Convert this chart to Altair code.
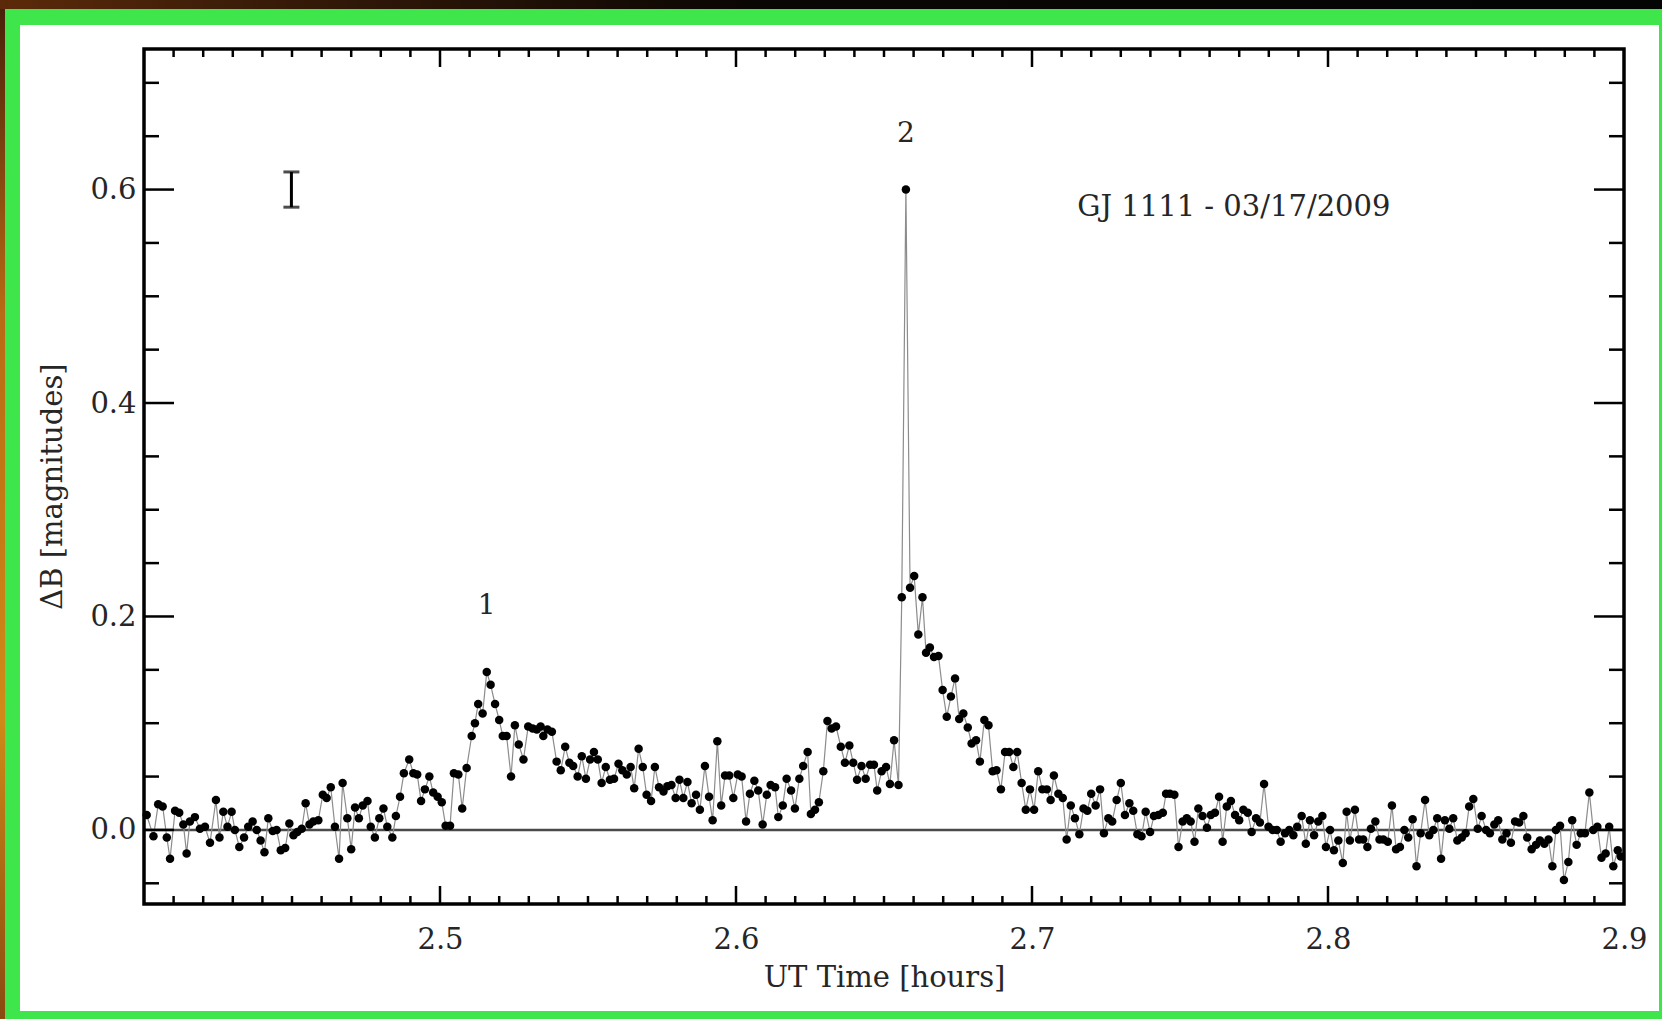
import altair as alt
import pandas as pd

# UT time [hours] and Delta-B [mag] of GJ 1111, night of 03/17/2009
ut_hours = [
    2.4009, 2.4032, 2.4048, 2.4063, 2.4077, 2.4088, 2.4105, 2.4119, 2.4133, 2.4144,
    2.4155, 2.4172, 2.4189, 2.4206, 2.4223, 2.4243, 2.4255, 2.4268, 2.4282, 2.4296,
    2.4307, 2.4322, 2.4338, 2.4352, 2.4367, 2.4381, 2.4394, 2.4407, 2.4420, 2.4435,
    2.4448, 2.4462, 2.4477, 2.4491, 2.4505, 2.4518, 2.4533, 2.4546, 2.4559, 2.4572,
    2.4589, 2.4604, 2.4617, 2.4631, 2.4645, 2.4659, 2.4671, 2.4687, 2.4700, 2.4713,
    2.4726, 2.4739, 2.4755, 2.4766, 2.4780, 2.4795, 2.4809, 2.4822, 2.4839, 2.4851,
    2.4865, 2.4878, 2.4896, 2.4910, 2.4923, 2.4936, 2.4949, 2.4964, 2.4977, 2.4992,
    2.5006, 2.5019, 2.5034, 2.5047, 2.5062, 2.5075, 2.5090, 2.5107, 2.5118, 2.5129,
    2.5144, 2.5158, 2.5171, 2.5186, 2.5200, 2.5212, 2.5225, 2.5240, 2.5253, 2.5266,
    2.5282, 2.5298, 2.5313, 2.5327, 2.5340, 2.5349, 2.5363, 2.5378, 2.5394, 2.5408,
    2.5423, 2.5437, 2.5450, 2.5465, 2.5479, 2.5493, 2.5507, 2.5520, 2.5533, 2.5546,
    2.5560, 2.5574, 2.5588, 2.5603, 2.5616, 2.5631, 2.5644, 2.5656, 2.5671, 2.5685,
    2.5698, 2.5713, 2.5726, 2.5740, 2.5755, 2.5768, 2.5782, 2.5796, 2.5809, 2.5822,
    2.5836, 2.5850, 2.5865, 2.5878, 2.5895, 2.5909, 2.5921, 2.5937, 2.5950, 2.5963,
    2.5977, 2.5991, 2.6006, 2.6019, 2.6034, 2.6047, 2.6062, 2.6075, 2.6090, 2.6104,
    2.6117, 2.6132, 2.6143, 2.6158, 2.6171, 2.6186, 2.6199, 2.6214, 2.6227, 2.6242,
    2.6253, 2.6267, 2.6280, 2.6295, 2.6309, 2.6323, 2.6338, 2.6354, 2.6368, 2.6383,
    2.6396, 2.6409, 2.6424, 2.6438, 2.6453, 2.6466, 2.6477, 2.6492, 2.6507, 2.6520,
    2.6534, 2.6549, 2.6560, 2.6574, 2.6588, 2.6602, 2.6616, 2.6630, 2.6642, 2.6655,
    2.6669, 2.6684, 2.6698, 2.6712, 2.6726, 2.6740, 2.6754, 2.6768, 2.6783, 2.6796,
    2.6811, 2.6824, 2.6839, 2.6853, 2.6867, 2.6880, 2.6895, 2.6909, 2.6923, 2.6937,
    2.6950, 2.6965, 2.6979, 2.6993, 2.7007, 2.7021, 2.7035, 2.7050, 2.7063, 2.7074,
    2.7089, 2.7104, 2.7117, 2.7131, 2.7145, 2.7160, 2.7174, 2.7187, 2.7200, 2.7215,
    2.7230, 2.7243, 2.7258, 2.7271, 2.7286, 2.7300, 2.7314, 2.7329, 2.7342, 2.7356,
    2.7370, 2.7384, 2.7399, 2.7412, 2.7427, 2.7442, 2.7453, 2.7466, 2.7481, 2.7495,
    2.7509, 2.7523, 2.7536, 2.7549, 2.7562, 2.7576, 2.7591, 2.7604, 2.7618, 2.7632,
    2.7644, 2.7658, 2.7672, 2.7686, 2.7700, 2.7714, 2.7729, 2.7742, 2.7757, 2.7770,
    2.7784, 2.7799, 2.7813, 2.7827, 2.7840, 2.7855, 2.7869, 2.7883, 2.7896, 2.7911,
    2.7925, 2.7939, 2.7953, 2.7967, 2.7981, 2.7993, 2.8007, 2.8020, 2.8035, 2.8050,
    2.8063, 2.8074, 2.8091, 2.8105, 2.8119, 2.8133, 2.8145, 2.8160, 2.8174, 2.8187,
    2.8202, 2.8216, 2.8230, 2.8243, 2.8258, 2.8271, 2.8286, 2.8299, 2.8313, 2.8328,
    2.8342, 2.8356, 2.8369, 2.8382, 2.8395, 2.8410, 2.8423, 2.8437, 2.8452, 2.8465,
    2.8477, 2.8491, 2.8506, 2.8519, 2.8534, 2.8547, 2.8562, 2.8575, 2.8589, 2.8603,
    2.8618, 2.8632, 2.8646, 2.8660, 2.8673, 2.8688, 2.8703, 2.8716, 2.8731, 2.8745,
    2.8758, 2.8770, 2.8784, 2.8797, 2.8812, 2.8825, 2.8840, 2.8854, 2.8868, 2.8883,
    2.8896, 2.8910, 2.8924, 2.8938, 2.8950, 2.8964, 2.8979, 2.8989,
]
delta_b = [
    0.014, -0.006, 0.024, 0.022, -0.007, -0.027, 0.018, 0.016, 0.005, -0.022,
    0.008, 0.012, 0.001, 0.003, -0.012, 0.028, -0.007, 0.017, 0.003, 0.017,
    0.000, -0.016, -0.007, 0.003, 0.008, 0.000, -0.010, -0.021, 0.011, -0.001,
    0.000, -0.019, -0.017, 0.006, -0.005, -0.002, 0.001, 0.025, 0.005, 0.008,
    0.009, 0.033, 0.030, 0.040, 0.003, -0.027, 0.044, 0.011, -0.018, 0.021,
    0.011, 0.023, 0.027, 0.003, -0.007, 0.011, 0.020, 0.003, -0.007, 0.013,
    0.031, 0.053, 0.066, 0.053, 0.052, 0.027, 0.038, 0.050, 0.035, 0.031,
    0.026, 0.004, 0.004, 0.053, 0.052, 0.020, 0.058, 0.088, 0.100, 0.118,
    0.109, 0.148, 0.136, 0.118, 0.103, 0.088, 0.088, 0.050, 0.098, 0.080,
    0.066, 0.097, 0.095, 0.094, 0.097, 0.088, 0.094, 0.092, 0.064, 0.056,
    0.078, 0.063, 0.060, 0.050, 0.069, 0.048, 0.066, 0.073, 0.066, 0.044,
    0.059, 0.047, 0.048, 0.062, 0.056, 0.052, 0.059, 0.039, 0.076, 0.059,
    0.033, 0.027, 0.059, 0.040, 0.036, 0.041, 0.042, 0.030, 0.047, 0.030,
    0.045, 0.025, 0.033, 0.019, 0.060, 0.031, 0.009, 0.083, 0.023, 0.051,
    0.051, 0.030, 0.052, 0.050, 0.008, 0.034, 0.046, 0.037, 0.005, 0.033,
    0.042, 0.040, 0.012, 0.023, 0.048, 0.037, 0.020, 0.048, 0.060, 0.073,
    0.015, 0.019, 0.026, 0.055, 0.102, 0.095, 0.097, 0.078, 0.063, 0.079,
    0.063, 0.047, 0.060, 0.048, 0.061, 0.061, 0.037, 0.055, 0.059, 0.043,
    0.084, 0.042, 0.218, 0.600, 0.227, 0.238, 0.183, 0.218, 0.166, 0.171,
    0.162, 0.163, 0.131, 0.106, 0.125, 0.142, 0.104, 0.109, 0.096, 0.081,
    0.084, 0.064, 0.103, 0.098, 0.055, 0.056, 0.038, 0.073, 0.073, 0.059,
    0.073, 0.044, 0.019, 0.038, 0.019, 0.055, 0.038, 0.038, 0.028, 0.051,
    0.034, 0.030, -0.009, 0.023, 0.011, -0.004, 0.020, 0.018, 0.034, 0.023,
    0.038, -0.003, 0.011, 0.008, 0.028, 0.044, 0.014, 0.025, 0.018, -0.004,
    -0.006, 0.017, -0.002, 0.013, 0.014, 0.016, 0.034, 0.034, 0.033, -0.016,
    0.008, 0.011, 0.008, -0.011, 0.020, 0.013, 0.002, 0.014, 0.016, 0.031,
    -0.011, 0.022, 0.027, 0.014, 0.009, 0.019, 0.016, -0.002, 0.011, 0.007,
    0.043, 0.003, 0.000, 0.000, -0.011, -0.003, 0.000, -0.005, 0.003, 0.013,
    -0.013, 0.009, -0.005, 0.008, 0.013, -0.016, 0.000, -0.019, -0.010, -0.031,
    0.017, -0.010, 0.019, -0.009, -0.009, -0.016, 0.001, 0.008, -0.009, -0.009,
    -0.011, 0.023, -0.018, -0.016, 0.000, -0.007, 0.010, -0.034, -0.003, 0.028,
    -0.005, 0.000, 0.011, -0.027, 0.009, 0.001, 0.011, -0.010, -0.007, -0.003,
    0.022, 0.029, 0.001, 0.013, 0.000, -0.003, 0.005, 0.009, -0.009, -0.003,
    -0.012, 0.008, 0.007, 0.013, -0.007, -0.018, -0.014, -0.010, -0.013, -0.009,
    -0.034, 0.000, 0.004, -0.047, -0.030, 0.009, -0.014, -0.003, -0.003, 0.035,
    0.000, 0.003, -0.026, -0.022, 0.003, -0.034, -0.019, -0.025,
]

# flare labels and the typical photometric error bar
flare_names = ["1", "2"]
flare_t = [2.5158, 2.6574]
flare_label_y = [0.210, 0.652]
err_t = [2.4498]
err_center = [0.600]
err_half = [0.0165]
star_label = ["GJ 1111 - 03/17/2009"]
star_label_t = [2.7682]
star_label_y = [0.584]

x_label_values = [2.5, 2.6, 2.7, 2.8, 2.9]
y_label_values = [0.0, 0.2, 0.4, 0.6]
x_major = [2.5, 2.6, 2.7, 2.8]
x_minor = [round(2.4 + 0.01 * i, 2) for i in range(1, 50) if i % 10]
y_major = [0.0, 0.2, 0.4, 0.6]
y_minor = [-0.05, 0.05, 0.1, 0.15, 0.25, 0.3, 0.35, 0.45, 0.5, 0.55, 0.65, 0.7]

W, H = 1480, 855
FONT = "DejaVu Serif"
INK = "#262626"

x_scale = alt.Scale(domain=[2.4, 2.9], nice=False, zero=False)
y_scale = alt.Scale(domain=[-0.0694, 0.7317], nice=False, zero=False)

lc = pd.DataFrame({"t": ut_hours, "dB": delta_b})
one = pd.DataFrame({"k": [0]})

x_axis = alt.Axis(values=x_label_values, format=".1f", ticks=False, domain=False,
                  grid=False, labelFlush=False, labelOverlap=False, labelBound=False,
                  labelFont=FONT, labelFontSize=29, labelColor=INK, labelPadding=21,
                  title="UT Time [hours]", titleFont=FONT, titleFontSize=29,
                  titleFontWeight="normal", titleColor=INK, titlePadding=9, zindex=2)
y_axis = alt.Axis(values=y_label_values, format=".1f", ticks=False, domain=False,
                  grid=False, labelFlush=False, labelOverlap=False, labelBound=False,
                  labelFont=FONT, labelFontSize=29, labelColor=INK, labelPadding=8,
                  title="ΔB [magnitudes]", titleFont=FONT, titleFontSize=29,
                  titleFontWeight="normal", titleColor=INK, titlePadding=22,
                  titleY=437, zindex=2)

# page decoration: white sheet on a green frame, dark strip above
sheet = alt.Chart(one).mark_rect(color="white").encode(
    x=alt.value(-124), x2=alt.value(1515), y=alt.value(-24), y2=alt.value(962))
top_strip = alt.Chart(one).mark_rect(
    color=alt.Gradient(gradient="linear", x1=0, x2=1, y1=0, y2=0,
                       stops=[alt.GradientStop(offset=0, color="#5c2a0a"),
                              alt.GradientStop(offset=0.15, color="#3a1c08"),
                              alt.GradientStop(offset=0.45, color="#0a0604"),
                              alt.GradientStop(offset=1, color="#040404")])
).encode(x=alt.value(-144), x2=alt.value(1518), y=alt.value(-49), y2=alt.value(-40))
left_strip = alt.Chart(one).mark_rect(
    color=alt.Gradient(gradient="linear", x1=0, x2=0, y1=0, y2=1,
                       stops=[alt.GradientStop(offset=0, color="#4a200a"),
                              alt.GradientStop(offset=0.3, color="#b86a14"),
                              alt.GradientStop(offset=0.7, color="#d08a18"),
                              alt.GradientStop(offset=1, color="#8a4a10")])
).encode(x=alt.value(-144), x2=alt.value(-139), y=alt.value(-40), y2=alt.value(970))

zero_line = alt.Chart(one).mark_rule(color="#4a4a4a", strokeWidth=2.5).encode(
    y=alt.datum(0, scale=y_scale), x=alt.value(0), x2=alt.value(W))

curve = alt.Chart(lc).mark_line(color="#8c8c8c", strokeWidth=1.2).encode(
    x=alt.X("t:Q", scale=x_scale, axis=x_axis),
    y=alt.Y("dB:Q", scale=y_scale, axis=y_axis),
    order="t:Q")
dots = alt.Chart(lc).mark_circle(color="black", size=72, opacity=1).encode(
    x=alt.X("t:Q", scale=x_scale), y=alt.Y("dB:Q", scale=y_scale))

err = pd.DataFrame({"t": err_t, "c": err_center, "h": err_half})
err_stem = alt.Chart(err).transform_calculate(
    lo="datum.c - datum.h", hi="datum.c + datum.h").mark_rule(
    color="black", strokeWidth=3).encode(
    x=alt.X("t:Q", scale=x_scale), y=alt.Y("lo:Q", scale=y_scale), y2="hi:Q")
err_caps = alt.Chart(err).transform_calculate(
    lo="datum.c - datum.h", hi="datum.c + datum.h").transform_fold(
    ["lo", "hi"], as_=["end", "yv"]).mark_tick(
    color="black", orient="horizontal", size=16, thickness=3).encode(
    x=alt.X("t:Q", scale=x_scale), y=alt.Y("yv:Q", scale=y_scale))

flares = alt.Chart(pd.DataFrame({"n": flare_names, "t": flare_t, "y": flare_label_y})
                   ).mark_text(font=FONT, fontSize=28, color=INK, baseline="middle").encode(
    x=alt.X("t:Q", scale=x_scale), y=alt.Y("y:Q", scale=y_scale), text="n:N")
star = alt.Chart(pd.DataFrame({"s": star_label, "t": star_label_t, "y": star_label_y})
                 ).mark_text(font=FONT, fontSize=29, color=INK, baseline="middle").encode(
    x=alt.X("t:Q", scale=x_scale), y=alt.Y("y:Q", scale=y_scale), text="s:N")

# inward ticks on all four sides of the frame
def x_ticks(values, length):
    d = pd.DataFrame({"v": values})
    bottom = alt.Chart(d).mark_rule(color="black", strokeWidth=2.5).encode(
        x=alt.X("v:Q", scale=x_scale), y=alt.value(H), y2=alt.value(H - length))
    top = alt.Chart(d).mark_rule(color="black", strokeWidth=2.5).encode(
        x=alt.X("v:Q", scale=x_scale), y=alt.value(0), y2=alt.value(length))
    return [bottom, top]

def y_ticks(values, length):
    d = pd.DataFrame({"v": values})
    left = alt.Chart(d).mark_rule(color="black", strokeWidth=2.5).encode(
        y=alt.Y("v:Q", scale=y_scale), x=alt.value(0), x2=alt.value(length))
    right = alt.Chart(d).mark_rule(color="black", strokeWidth=2.5).encode(
        y=alt.Y("v:Q", scale=y_scale), x=alt.value(W), x2=alt.value(W - length))
    return [left, right]

ticks = x_ticks(x_minor, 8) + x_ticks(x_major, 18) + y_ticks(y_minor, 15) + y_ticks(y_major, 30)

frame = alt.Chart(one).mark_rect(filled=False, stroke="black", strokeWidth=3.5).encode(
    x=alt.value(0), x2=alt.value(W), y=alt.value(0), y2=alt.value(H))

chart = alt.layer(
    top_strip, left_strip, sheet, zero_line, curve, dots, err_stem, err_caps,
    flares, star, *ticks, frame
).properties(
    width=W, height=H,
    background="#3ee64b",
    padding={"left": 144, "top": 49, "right": 38, "bottom": 115},
    autosize=alt.AutoSizeParams(type="none"),
).configure_view(stroke=None)

chart.save("out.html", embed_options={"renderer": "svg", "actions": False})
